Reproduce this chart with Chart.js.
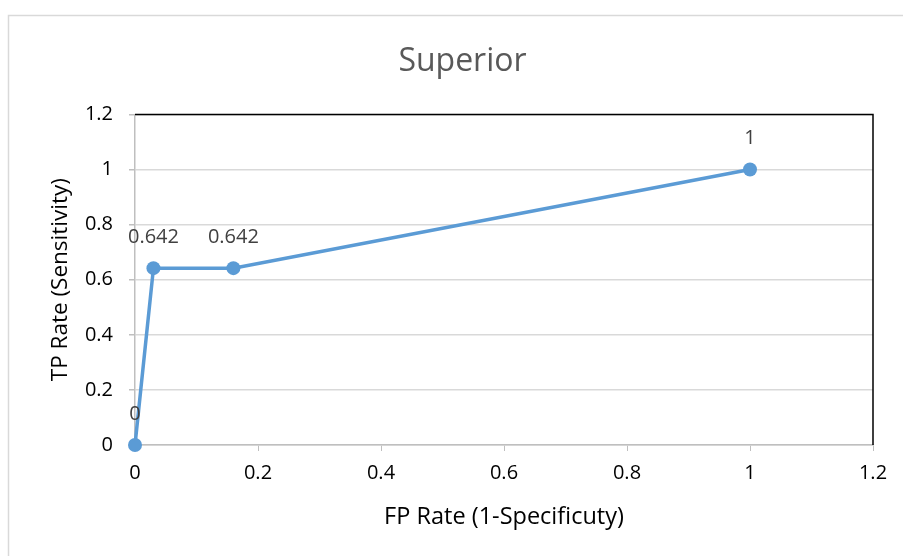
<!DOCTYPE html>
<html>
<head>
<meta charset="utf-8">
<script src="https://cdn.jsdelivr.net/npm/chart.js@4/dist/chart.umd.min.js"></script>
<style>
html,body{margin:0;padding:0;background:#fff}
#wrap{width:903px;height:556px}
</style>
</head>
<body>
<div id="wrap"><canvas id="grafico"></canvas></div>
<script>

// valores
let fpRate=[0,0.03,0.16,1]
let tpRate=[0,0.642,0.642,1]
let rotulos=['0','0.642','0.642','1']
let xTicks=[0,0.2,0.4,0.6,0.8,1,1.2]
let yTicks=[0,0.2,0.4,0.6,0.8,1,1.2]

let fonte='"Open Sans", sans-serif'

// moldura externa cinza e borda preta do plot
let moldura={
id:'moldura',
afterLayout(chart){
// titulo centrado na moldura do excel, nao no canvas
if(chart.titleBlock)chart.titleBlock.left+=44
},
beforeDraw(chart){
let ctx=chart.ctx
ctx.save()
ctx.strokeStyle='#d9d9d9'
ctx.lineWidth=1.5
ctx.strokeRect(8.5,15.5,960,700)
ctx.restore()
},
beforeDatasetsDraw(chart){
let a=chart.chartArea
let ctx=chart.ctx
ctx.save()
ctx.strokeStyle='#000'
ctx.lineWidth=1.5
ctx.beginPath()
ctx.moveTo(a.left,a.top)
ctx.lineTo(a.right,a.top)
ctx.lineTo(a.right,a.bottom)
ctx.stroke()
ctx.restore()
}
}

// rotulos de dados acima dos pontos
let rotulosPlugin={
id:'rotulos',
afterDatasetsDraw(chart){
let ctx=chart.ctx
let meta=chart.getDatasetMeta(0)
ctx.save()
ctx.font='20px '+fonte
ctx.fillStyle='#404040'
ctx.textAlign='center'
ctx.textBaseline='middle'
meta.data.forEach((p,i)=>{
ctx.fillText(rotulos[i],p.x,p.y-31)
})
ctx.restore()
}
}

let pontos=fpRate.map((x,i)=>({x:x,y:tpRate[i]}))
let fmt=v=>String(Number(v.toFixed(2)))

new Chart(document.getElementById('grafico'),{
type:'scatter',
data:{
datasets:[{
data:pontos,
showLine:true,
borderColor:'#5b9bd5',
backgroundColor:'#5b9bd5',
borderWidth:3.5,
pointRadius:7,
pointBorderWidth:0,
pointBackgroundColor:'#5b9bd5',
tension:0,
clip:false
}]
},
options:{
responsive:true,
maintainAspectRatio:false,
animation:false,
devicePixelRatio:1,
layout:{padding:{left:8,right:30,top:0,bottom:0}},
plugins:{
legend:{display:false},
tooltip:{enabled:false},
title:{
display:true,
text:'Superior',
color:'#595959',
font:{family:fonte,size:32,weight:'normal',lineHeight:1.2},
padding:{top:43,bottom:33}
}
},
scales:{
x:{
type:'linear',
min:0,max:1.2,
afterFit(s){s.height=111},
afterBuildTicks(s){s.ticks=xTicks.map(v=>({value:v}))},
ticks:{color:'#000',font:{family:fonte,size:20},padding:10,maxRotation:0,autoSkip:false,callback:fmt},
grid:{drawOnChartArea:false,drawTicks:true,tickLength:6,tickColor:'#bfbfbf'},
border:{color:'#bfbfbf',width:1.5},
title:{display:true,text:'FP Rate (1-Specificuty)',color:'#000',font:{family:fonte,size:23.5,lineHeight:1.2},padding:{top:0,bottom:25}}
},
y:{
type:'linear',
min:0,max:1.2,
afterFit(s){s.width=127},
afterBuildTicks(s){s.ticks=yTicks.map(v=>({value:v}))},
ticks:{color:'#000',font:{family:fonte,size:20},padding:16,autoSkip:false,callback:fmt},
grid:{color:'#d9d9d9',lineWidth:1.5,drawTicks:true,tickLength:6,tickColor:'#bfbfbf'},
border:{color:'#bfbfbf',width:1.5},
title:{display:true,text:'TP Rate (Sensitivity)',color:'#000',font:{family:fonte,size:22.5,lineHeight:1.2},padding:{top:39,bottom:0}}
}
}
},
plugins:[moldura,rotulosPlugin]
})

</script>
</body>
</html>
